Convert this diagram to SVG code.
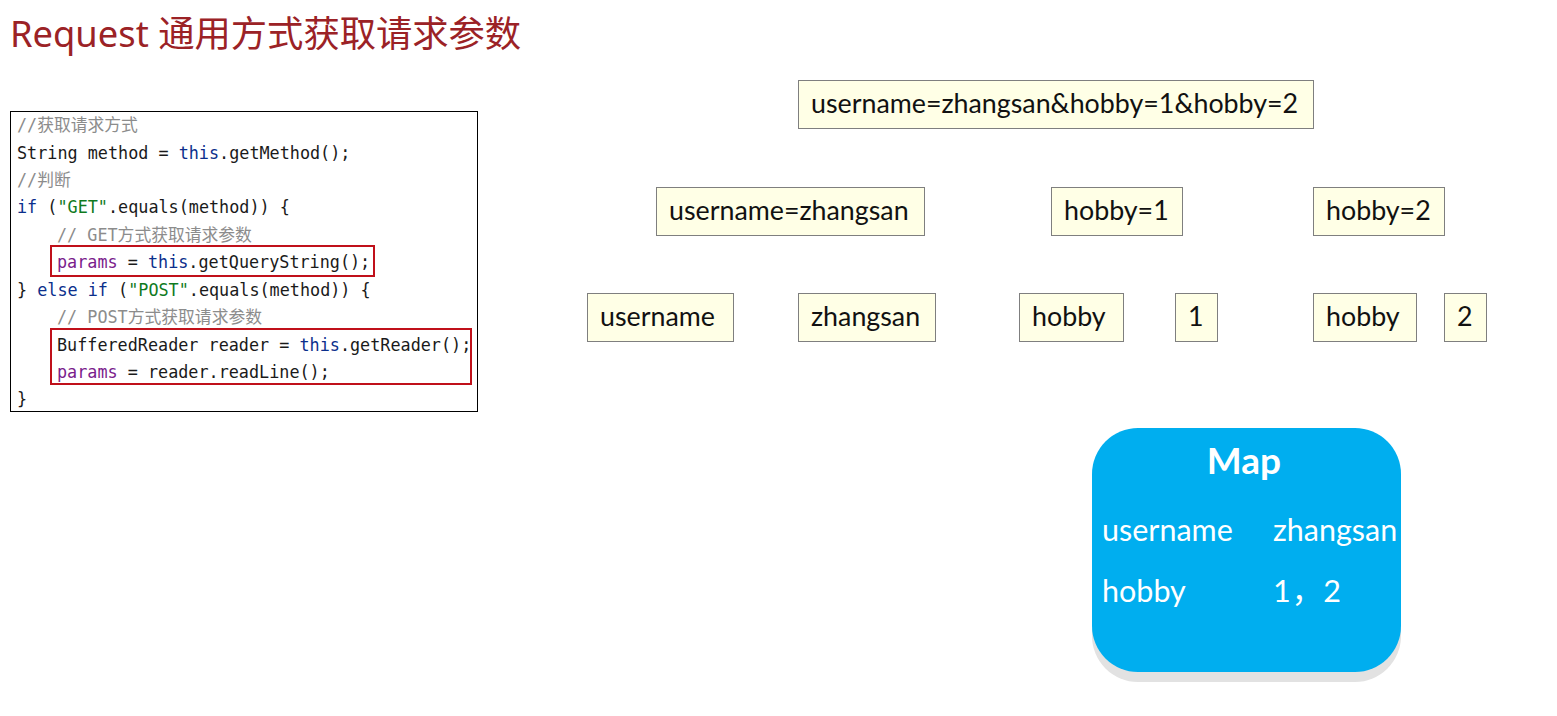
<svg xmlns="http://www.w3.org/2000/svg" width="1557" height="716" viewBox="0 0 1557 716">
  <defs>
    <style>
      .title { font-family: "Noto Sans", "Noto Sans CJK SC", sans-serif; font-size: 36.3px; fill: #9B2226; }
      .code { font-family: "DejaVu Sans Mono", "Noto Sans CJK SC", monospace; font-size: 16.8px; fill: #1a1a1a; white-space: pre; }
      .kw { fill: #0B2F8C; }
      .str { fill: #0F7A1E; }
      .var { fill: #7A1C8C; }
      .cmt { fill: #8C8C8C; }
      .hl { fill: none; stroke: #C0101A; stroke-width: 2; }
      .box rect { fill: #FFFFE6; stroke: #7F7F7F; stroke-width: 1; }
      .box text { font-family: "Lato", "Liberation Sans", sans-serif; font-size: 26.8px; fill: #111; }
      .map text { font-family: "Lato", "Liberation Sans", "Noto Sans CJK SC", sans-serif; font-size: 30.5px; fill: #FFFFFF; }
    </style>
  </defs>

  <rect width="1557" height="716" fill="#FFFFFF"/>

  <text class="title" x="10" y="47">Request 通用方式获取请求参数</text>

  <!-- code listing -->
  <g id="code">
    <rect x="10.5" y="111.5" width="467" height="300" fill="#FFFFFF" stroke="#000000" stroke-width="1"/>
    <text class="code cmt" x="17" y="131">//获取请求方式</text>
    <text class="code" x="17" y="159">String method = <tspan class="kw">this</tspan>.getMethod();</text>
    <text class="code cmt" x="17" y="186">//判断</text>
    <text class="code" x="17" y="213"><tspan class="kw">if</tspan> (<tspan class="str">"GET"</tspan>.equals(method)) {</text>
    <text class="code cmt" x="57" y="241">// GET方式获取请求参数</text>
    <text class="code" x="57" y="268"><tspan class="var">params</tspan> = <tspan class="kw">this</tspan>.getQueryString();</text>
    <text class="code" x="17" y="296">} <tspan class="kw">else if</tspan> (<tspan class="str">"POST"</tspan>.equals(method)) {</text>
    <text class="code cmt" x="57" y="323">// POST方式获取请求参数</text>
    <text class="code" x="57" y="351">BufferedReader reader = <tspan class="kw">this</tspan>.getReader();</text>
    <text class="code" x="57" y="378"><tspan class="var">params</tspan> = reader.readLine();</text>
    <text class="code" x="17" y="405">}</text>
    <rect class="hl" x="51" y="246" width="323" height="30"/>
    <rect class="hl" x="51" y="329" width="420" height="55"/>
  </g>

  <!-- query string split into pairs, then keys and values -->
  <g id="query" class="box">
    <rect x="798.5" y="80.5" width="515" height="48"/>
    <text x="811" y="113">username=zhangsan&amp;hobby=1&amp;hobby=2</text>
  </g>
  <g id="pair-username" class="box">
    <rect x="656.5" y="187.5" width="268" height="48"/>
    <text x="669" y="220">username=zhangsan</text>
  </g>
  <g id="pair-hobby1" class="box">
    <rect x="1051.5" y="187.5" width="131" height="48"/>
    <text x="1064" y="220">hobby=1</text>
  </g>
  <g id="pair-hobby2" class="box">
    <rect x="1313.5" y="187.5" width="131" height="48"/>
    <text x="1326" y="220">hobby=2</text>
  </g>
  <g id="key-username" class="box">
    <rect x="587.5" y="293.5" width="146" height="48"/>
    <text x="600" y="326">username</text>
  </g>
  <g id="val-zhangsan" class="box">
    <rect x="798.5" y="293.5" width="137" height="48"/>
    <text x="811" y="326">zhangsan</text>
  </g>
  <g id="key-hobby1" class="box">
    <rect x="1019.5" y="293.5" width="104" height="48"/>
    <text x="1032" y="326">hobby</text>
  </g>
  <g id="val-1" class="box">
    <rect x="1175.5" y="293.5" width="42" height="48"/>
    <text x="1188" y="326">1</text>
  </g>
  <g id="key-hobby2" class="box">
    <rect x="1313.5" y="293.5" width="103" height="48"/>
    <text x="1326" y="326">hobby</text>
  </g>
  <g id="val-2" class="box">
    <rect x="1444.5" y="293.5" width="42" height="48"/>
    <text x="1457" y="326">2</text>
  </g>

  <!-- resulting Map -->
  <g id="map" class="map">
    <rect x="1092" y="436" width="309" height="246" rx="46" fill="#E2E2E2"/>
    <rect x="1092" y="428" width="309" height="244" rx="46" fill="#00AEEF"/>
    <text x="1244" y="474" text-anchor="middle" style="font-size:37px;font-weight:bold">Map</text>
    <text x="1102" y="541">username</text>
    <text x="1273" y="541">zhangsan</text>
    <text x="1102" y="602">hobby</text>
    <text x="1273" y="602" textLength="68" lengthAdjust="spacing">1 ， 2</text>
  </g>
</svg>
